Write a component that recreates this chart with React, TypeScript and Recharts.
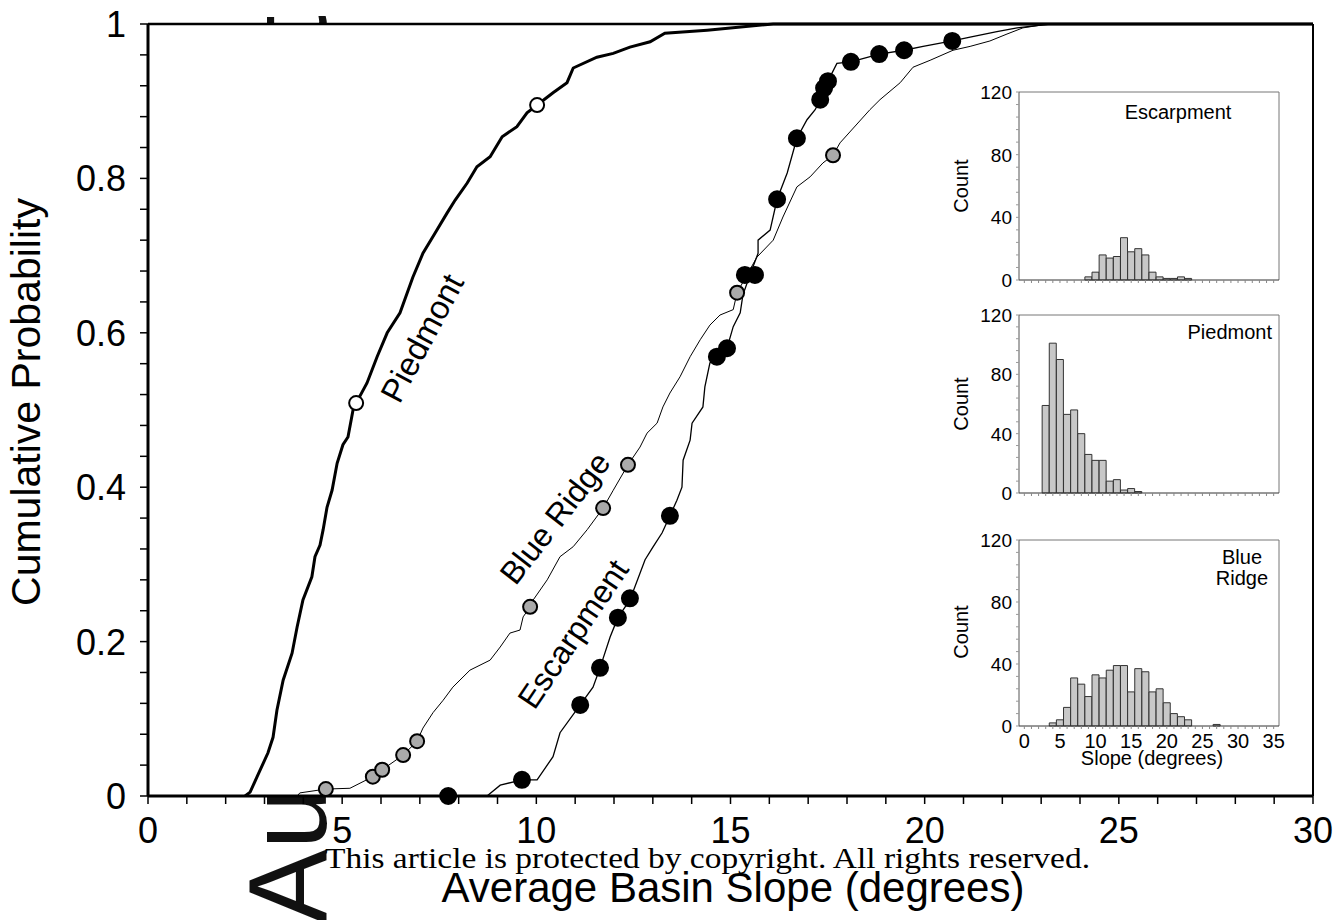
import {
  Bar, BarChart, CartesianGrid, ComposedChart, Line, ReferenceLine, Scatter, XAxis, YAxis,
} from "recharts";

// cumulative curves, [slope, probability]
const piedmontCdf = [
  [2.5, 0], [2.63, 0.005], [2.81, 0.025], [3.09, 0.056], [3.22, 0.076], [3.32, 0.111], [3.48, 0.15],
  [3.71, 0.185], [3.84, 0.219], [3.99, 0.254], [4.22, 0.284], [4.3, 0.31], [4.43, 0.325], [4.51, 0.345],
  [4.61, 0.374], [4.74, 0.396], [4.87, 0.431], [5.02, 0.455], [5.15, 0.465], [5.28, 0.5], [5.36, 0.509],
  [5.64, 0.535], [5.9, 0.569], [6.16, 0.6], [6.49, 0.626], [6.82, 0.672], [7.08, 0.703], [7.39, 0.729],
  [7.7, 0.755], [7.91, 0.772], [8.22, 0.794], [8.47, 0.815], [8.81, 0.828], [9.12, 0.854], [9.5, 0.867],
  [9.76, 0.885], [10.02, 0.895], [10.43, 0.911], [10.79, 0.924], [10.95, 0.943], [11.56, 0.957],
  [11.98, 0.962], [12.41, 0.97], [12.93, 0.977], [13.31, 0.988], [14.4, 0.992], [16.1, 1], [30, 1],
];
const blueRidgeCdf = [
  [3.84, 0], [3.91, 0.004], [4.58, 0.009], [5.2, 0.01], [5.79, 0.025], [6.03, 0.034], [6.57, 0.053],
  [6.93, 0.071], [7.08, 0.088], [7.34, 0.108], [7.6, 0.124], [7.85, 0.141], [8.29, 0.163], [8.81, 0.176],
  [9.07, 0.193], [9.32, 0.211], [9.58, 0.215], [9.66, 0.232], [9.84, 0.245], [9.92, 0.254], [10.28, 0.28],
  [10.61, 0.31], [10.95, 0.323], [11.31, 0.345], [11.72, 0.373], [11.98, 0.396], [12.36, 0.429],
  [12.67, 0.452], [12.85, 0.47], [13.11, 0.483], [13.26, 0.504], [13.44, 0.522], [13.7, 0.543],
  [13.96, 0.569], [14.22, 0.591], [14.47, 0.61], [14.73, 0.623], [15.07, 0.63], [15.17, 0.652],
  [15.68, 0.698], [16.1, 0.72], [16.35, 0.75], [16.71, 0.789], [17.05, 0.802], [17.38, 0.82],
  [17.64, 0.83], [17.82, 0.846], [18.59, 0.889], [18.85, 0.902], [19.37, 0.924], [19.7, 0.944],
  [20.14, 0.953], [20.73, 0.966], [21.17, 0.971], [21.68, 0.978], [22.12, 0.987], [22.53, 0.995],
  [23.05, 0.999], [23.49, 1], [30, 1],
];
const escarpmentCdf = [
  [8.73, 0], [9.07, 0.014], [9.63, 0.021], [10.02, 0.021], [10.43, 0.051], [10.61, 0.082], [11.13, 0.118],
  [11.46, 0.141], [11.64, 0.166], [11.9, 0.206], [12.1, 0.231], [12.41, 0.254], [12.8, 0.306],
  [13.01, 0.323], [13.24, 0.341], [13.44, 0.363], [13.62, 0.383], [13.75, 0.4], [13.78, 0.435],
  [13.96, 0.461], [14.01, 0.483], [14.29, 0.504], [14.34, 0.53], [14.47, 0.561], [14.65, 0.569],
  [14.91, 0.58], [15.07, 0.608], [15.25, 0.626], [15.32, 0.649], [15.5, 0.675], [15.71, 0.703],
  [15.71, 0.72], [16.02, 0.733], [16.2, 0.773], [16.46, 0.807], [16.71, 0.852], [16.97, 0.876],
  [17.18, 0.889], [17.31, 0.902], [17.41, 0.917], [17.51, 0.926], [17.74, 0.949], [18.1, 0.951],
  [18.83, 0.961], [19.47, 0.966], [19.96, 0.971], [20.71, 0.978], [21.17, 0.983], [21.86, 0.99],
  [22.38, 0.995], [22.71, 0.997], [23.23, 1], [30, 1],
];

// sampled basins (circles)
const piedmontSamples = [[5.36, 0.509], [10.02, 0.895]];
const blueRidgeSamples = [
  [4.58, 0.009], [5.79, 0.025], [6.03, 0.034], [6.57, 0.053], [6.93, 0.071], [9.84, 0.245],
  [11.72, 0.373], [12.36, 0.429], [15.17, 0.652], [17.64, 0.83],
];
const escarpmentSamples = [
  [7.73, 0], [9.63, 0.021], [11.13, 0.118], [11.64, 0.166], [12.1, 0.231], [12.41, 0.256], [13.44, 0.363],
  [14.65, 0.569], [14.91, 0.58], [15.37, 0.675], [15.63, 0.675], [16.2, 0.773], [16.71, 0.852],
  [17.31, 0.902], [17.41, 0.917], [17.51, 0.926], [18.1, 0.951], [18.83, 0.961], [19.47, 0.966],
  [20.71, 0.978],
];

// histograms, 1-degree bins
const slopeBins = [
  0, 1, 2, 3, 4, 5, 6, 7, 8, 9, 10, 11, 12, 13, 14, 15, 16, 17,
  18, 19, 20, 21, 22, 23, 24, 25, 26, 27, 28, 29, 30, 31, 32, 33, 34, 35,
];
const escarpmentCounts = [
  0, 0, 0, 0, 0, 0, 0, 0, 0, 2, 5, 16, 14, 15, 27, 18, 20, 16,
  5, 2, 1, 1, 2, 1, 0, 0, 0, 0, 0, 0, 0, 0, 0, 0, 0, 0,
];
const piedmontCounts = [
  0, 0, 0, 59, 101, 90, 53, 56, 40, 26, 22, 22, 8, 9, 2, 3, 1, 0,
  0, 0, 0, 0, 0, 0, 0, 0, 0, 0, 0, 0, 0, 0, 0, 0, 0, 0,
];
const blueRidgeCounts = [
  0, 0, 0, 0, 2, 4, 12, 31, 27, 19, 33, 31, 36, 39, 39, 22, 37, 35,
  22, 24, 15, 8, 6, 4, 0, 0, 0, 1, 0, 0, 0, 0, 0, 0, 0, 0,
];

const mainXLabels = [0, 5, 10, 15, 20, 25, 30];
const mainYLabels = [0, 0.2, 0.4, 0.6, 0.8, 1];
const insetYLabels = [0, 40, 80, 120];
const insetXLabels = [0, 5, 10, 15, 20, 25, 30, 35];

const SANS = "'Liberation Sans', Arial, Helvetica, sans-serif";
const toPts = (arr: number[][]) => arr.map(([x, p]) => ({ x, p }));

const xMinor = Array.from({ length: 31 }, (_, i) => i);
const yMinor = Array.from({ length: 26 }, (_, i) => Math.round(i * 4) / 100);
const insetYMinor = Array.from({ length: 16 }, (_, i) => i * 8);

const isLabel = (list: number[], v: number) => list.some((t) => Math.abs(t - v) < 1e-6);

function MainXTick(props: any) {
  const { x, y, payload } = props;
  if (!isLabel(mainXLabels, payload.value)) return <g />;
  return (
    <text x={x} y={y + 37} textAnchor="middle" fontSize={36} fontFamily={SANS} fill="#000">
      {payload.value}
    </text>
  );
}

function MainYTick(props: any) {
  const { x, y, payload } = props;
  if (!isLabel(mainYLabels, payload.value)) return <g />;
  const v = payload.value;
  const label = v === 0 ? "0" : v === 1 ? "1" : v.toFixed(1);
  return (
    <text x={x - 12} y={y + 13} textAnchor="end" fontSize={36} fontFamily={SANS} fill="#000">
      {label}
    </text>
  );
}

const dot = (fill: string, r: number) => (p: any) => (
  <circle cx={p.cx} cy={p.cy} r={r} fill={fill} stroke="#000" strokeWidth={2} />
);

function Inset({ counts, plotTop, plotHeight, showX }: {
  counts: number[]; plotTop: number; plotHeight: number; showX: boolean;
}) {
  const data = slopeBins.map((b, i) => ({ bin: b, count: counts[i] }));
  const bottom = showX ? 56 : 8;
  const h = plotHeight + 10 + bottom;
  const xTick = (props: any) => {
    const { x, y, payload } = props;
    if (!showX || !isLabel(insetXLabels, payload.value)) return <g />;
    return (
      <text x={x} y={y + 17} textAnchor="middle" fontSize={20} fontFamily={SANS} fill="#000">
        {payload.value}
      </text>
    );
  };
  const yTick = (props: any) => {
    const { x, y, payload } = props;
    if (!isLabel(insetYLabels, payload.value)) return <g />;
    return (
      <text x={x - 2} y={y + 7} textAnchor="end" fontSize={19} fontFamily={SANS} fill="#000">
        {payload.value}
      </text>
    );
  };
  return (
    <div style={{ position: "absolute", left: 940, top: plotTop - 10, width: 345, height: h }}>
      <BarChart width={345} height={h} data={data} margin={{ top: 10, right: 6, bottom: 0, left: 0 }}
        barCategoryGap={0} barGap={0}>
        <XAxis type="number" dataKey="bin" domain={[-0.75, 35.75]} ticks={slopeBins} interval={0}
          height={bottom} tickSize={3} axisLine={{ stroke: "#333", strokeWidth: 1 }}
          tickLine={{ stroke: "#888" }} tick={xTick} />
        <YAxis type="number" domain={[0, 120]} ticks={insetYMinor} interval={0} width={79}
          tickSize={3} axisLine={{ stroke: "#555", strokeWidth: 1 }} tickLine={{ stroke: "#999" }}
          tick={yTick} />
        <ReferenceLine y={120} stroke="#777" strokeWidth={1} />
        <ReferenceLine x={35.75} stroke="#777" strokeWidth={1} />
        <Bar dataKey="count" fill="#c8c8c8" stroke="#333" strokeWidth={1} isAnimationActive={false} />
      </BarChart>
    </div>
  );
}

export default function App() {
  return (
    <div style={{ position: "absolute", left: 0, top: 0, width: 1337, height: 920, background: "#fff", overflow: "hidden" }}>
      {/* watermark sits behind the chart; the white plot area hides its middle */}
      <svg width={1337} height={920} style={{ position: "absolute", left: 0, top: 0 }}>
        <text x={326} y={924} transform="rotate(-90, 326, 924)" fontSize={112} fontFamily={SANS} fill="#111">
          Author Manuscript
        </text>
      </svg>

      <div style={{ position: "absolute", left: 0, top: 0 }}>
        <ComposedChart width={1337} height={920} margin={{ top: 24, right: 24, bottom: 0, left: 0 }}>
          <CartesianGrid fill="#fff" horizontal={false} vertical={false} />
          <XAxis type="number" dataKey="x" domain={[0, 30]} ticks={xMinor} interval={0} height={124}
            tickSize={8} axisLine={{ stroke: "#000", strokeWidth: 3 }}
            tickLine={{ stroke: "#000", strokeWidth: 1.5 }} tick={<MainXTick />} />
          <YAxis type="number" domain={[0, 1]} ticks={yMinor} interval={0} width={148}
            tickSize={8} axisLine={{ stroke: "#000", strokeWidth: 3 }}
            tickLine={{ stroke: "#000", strokeWidth: 1.5 }} tick={<MainYTick />} />
          <ReferenceLine y={1} stroke="#000" strokeWidth={2.5} />
          <ReferenceLine x={30} stroke="#000" strokeWidth={2} />
          <Line data={toPts(blueRidgeCdf)} dataKey="p" type="linear" stroke="#000" strokeWidth={1}
            dot={false} isAnimationActive={false} />
          <Line data={toPts(escarpmentCdf)} dataKey="p" type="linear" stroke="#000" strokeWidth={1.3}
            dot={false} isAnimationActive={false} />
          <Line data={toPts(piedmontCdf)} dataKey="p" type="linear" stroke="#000" strokeWidth={3}
            dot={false} isAnimationActive={false} />
          <Scatter data={toPts(blueRidgeSamples)} dataKey="p" shape={dot("#aaaaaa", 7)} isAnimationActive={false} />
          <Scatter data={toPts(escarpmentSamples)} dataKey="p" shape={dot("#000", 8)} isAnimationActive={false} />
          <Scatter data={toPts(piedmontSamples)} dataKey="p" shape={dot("#fff", 7)} isAnimationActive={false} />
        </ComposedChart>
      </div>

      <Inset counts={escarpmentCounts} plotTop={92} plotHeight={188} showX={false} />
      <Inset counts={piedmontCounts} plotTop={315} plotHeight={178} showX={false} />
      <Inset counts={blueRidgeCounts} plotTop={540} plotHeight={186} showX={true} />

      <svg width={1337} height={920} style={{ position: "absolute", left: 0, top: 0, pointerEvents: "none" }}
        fontFamily={SANS} fill="#000">
        <text x={733} y={902} textAnchor="middle" fontSize={42}>Average Basin Slope (degrees)</text>
        <text transform="translate(40,402) rotate(-90)" textAnchor="middle" fontSize={41}>Cumulative Probability</text>
        <text transform="translate(422,338) rotate(-62)" textAnchor="middle" dominantBaseline="central" fontSize={33}>Piedmont</text>
        <text transform="translate(555,518) rotate(-52)" textAnchor="middle" dominantBaseline="central" fontSize={32}>Blue Ridge</text>
        <text transform="translate(573,634) rotate(-56)" textAnchor="middle" dominantBaseline="central" fontSize={32}>Escarpment</text>

        <text x={1178} y={119} textAnchor="middle" fontSize={20}>Escarpment</text>
        <text x={1272} y={339} textAnchor="end" fontSize={20}>Piedmont</text>
        <text x={1242} y={564} textAnchor="middle" fontSize={20}>Blue</text>
        <text x={1242} y={585} textAnchor="middle" fontSize={20}>Ridge</text>
        <text transform="translate(968,186) rotate(-90)" textAnchor="middle" fontSize={20}>Count</text>
        <text transform="translate(968,404) rotate(-90)" textAnchor="middle" fontSize={20}>Count</text>
        <text transform="translate(968,632) rotate(-90)" textAnchor="middle" fontSize={20}>Count</text>
        <text x={1152} y={765} textAnchor="middle" fontSize={20}>Slope (degrees)</text>

        <text x={325} y={868} fontSize={30} fontFamily="'Liberation Serif', 'DejaVu Serif', serif"
          textLength={765} lengthAdjust="spacingAndGlyphs">
          This article is protected by copyright. All rights reserved.
        </text>
      </svg>
    </div>
  );
}
